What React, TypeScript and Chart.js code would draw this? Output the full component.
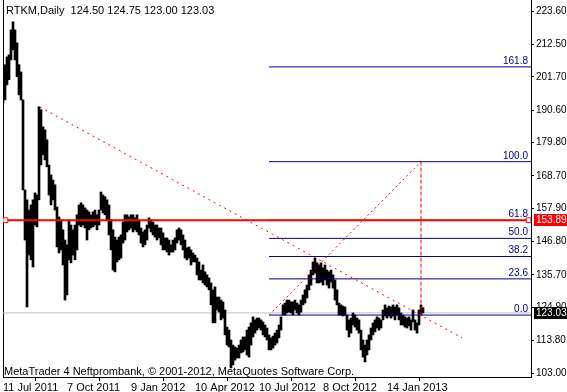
import React, { useEffect, useRef } from "react";
import { Chart, registerables } from "chart.js";

Chart.register(...registerables);

// ---------- data ----------
const symbolTitle = "RTKM,Daily  124.50 124.75 123.00 123.03";
const copyrightText = "MetaTrader 4 Neftprombank, © 2001-2012, MetaQuotes Software Corp.";

const dateLabels = ["11 Jul 2011", "7 Oct 2011", "9 Jan 2012", "10 Apr 2012", "10 Jul 2012", "8 Oct 2012", "14 Jan 2013"];
const dateTickBars = [0, 64, 128, 192, 256, 320, 384];
const priceTicks = [103.0, 113.8, 124.9, 135.7, 146.8, 157.9, 168.7, 179.8, 190.6, 201.7, 212.5, 223.6];

const barStep = 2; // each entry covers two daily bars
const totalBars = 528;
const priceMin = 101.67;
const priceMax = 227.27;

const highs = [
  204.0, 205.7, 208.3, 209.0, 217.3, 220.0, 217.3, 213.0, 205.7, 203.3,
  194.0, 164.0, 160.7, 157.3, 159.0, 160.7, 163.0, 162.3, 191.7, 190.7,
  185.0, 184.0, 180.7, 172.3, 169.0, 167.3, 165.7, 158.3, 155.0, 154.0,
  150.7, 147.3, 145.7, 154.0, 152.3, 150.7, 152.3, 155.7, 159.0, 159.7,
  159.0, 158.0, 157.3, 156.7, 155.7, 156.7, 157.3, 155.7, 157.3, 163.3,
  162.3, 161.7, 160.7, 159.0, 154.0, 150.7, 148.3, 147.3, 148.3, 149.0,
  153.3, 155.7, 155.7, 155.0, 155.7, 155.7, 154.7, 155.7, 154.0, 151.3,
  150.0, 150.7, 152.3, 154.7, 154.0, 153.3, 152.3, 152.3, 151.3, 151.3,
  149.7, 148.0, 148.0, 147.3, 145.7, 147.3, 148.0, 150.7, 151.3, 150.7,
  149.0, 147.3, 144.7, 145.0, 144.0, 143.0, 142.3, 141.3, 140.0, 137.3,
  139.0, 136.7, 135.7, 134.7, 133.0, 130.7, 131.7, 128.3, 128.3, 127.3,
  126.7, 124.0, 118.3, 117.3, 114.0, 112.3, 111.7, 111.3, 112.3, 114.0,
  115.0, 115.0, 117.3, 118.3, 119.7, 121.7, 120.7, 121.3, 121.3, 120.7,
  120.0, 119.0, 118.0, 115.7, 114.7, 115.3, 116.3, 117.3, 119.0, 121.7,
  125.7, 126.3, 127.3, 127.3, 126.7, 126.7, 127.3, 126.3, 125.7, 127.3,
  129.0, 130.7, 132.3, 135.7, 137.3, 140.0, 141.3, 139.7, 139.0, 139.7,
  138.0, 139.0, 137.3, 136.7, 137.3, 135.7, 134.0, 130.7, 126.3, 125.7,
  125.3, 125.0, 122.3, 120.7, 121.3, 123.0, 122.3, 121.3, 120.7, 117.3,
  114.0, 112.3, 114.0, 115.7, 118.0, 119.7, 120.7, 121.7, 121.3, 120.7,
  124.0, 125.7, 124.7, 125.3, 125.0, 125.7, 125.0, 125.7, 124.7, 123.0,
  122.3, 121.7, 121.3, 121.7, 120.7, 124.0, 120.7, 119.7, 124.0, 125.7,
  124.75,
];

const lows = [
  193.0, 194.0, 199.0, 200.7, 207.3, 210.7, 207.3, 201.7, 195.7, 194.0,
  164.0, 147.3, 125.0, 142.3, 140.7, 138.3, 152.3, 151.7, 160.7, 172.3,
  175.7, 174.0, 171.7, 162.3, 159.0, 160.7, 157.3, 145.0, 143.0, 144.0,
  139.0, 127.3, 129.0, 140.7, 139.7, 142.3, 140.7, 144.0, 152.3, 151.7,
  152.3, 151.3, 147.3, 150.7, 151.3, 151.7, 152.3, 150.7, 152.3, 157.3,
  156.3, 155.7, 154.0, 149.0, 144.0, 137.3, 136.7, 140.0, 140.7, 141.3,
  146.3, 147.3, 150.0, 150.7, 151.3, 150.0, 150.7, 150.0, 149.0, 146.3,
  145.0, 145.7, 147.3, 151.3, 150.0, 149.0, 148.3, 147.3, 148.0, 145.7,
  144.0, 144.0, 143.3, 142.3, 143.3, 143.3, 144.0, 146.3, 147.3, 145.7,
  144.0, 141.3, 140.7, 141.3, 139.0, 140.0, 140.0, 135.7, 134.0, 134.0,
  133.0, 132.3, 131.7, 130.7, 125.7, 119.7, 119.7, 124.0, 123.3, 120.7,
  121.3, 115.7, 112.3, 111.7, 104.7, 105.7, 107.3, 108.0, 108.0, 109.7,
  110.0, 110.7, 109.0, 108.3, 112.3, 115.0, 116.3, 117.3, 118.0, 117.3,
  115.7, 115.0, 114.0, 110.7, 110.7, 111.3, 112.3, 113.0, 114.7, 117.3,
  122.3, 122.3, 123.0, 123.3, 123.0, 122.3, 124.0, 123.0, 122.3, 123.3,
  125.7, 126.3, 128.0, 130.7, 132.3, 135.7, 136.3, 133.0, 133.0, 133.3,
  132.3, 134.0, 132.3, 131.3, 133.3, 131.3, 127.3, 125.7, 122.3, 122.3,
  122.0, 122.3, 117.3, 115.0, 116.3, 119.0, 118.3, 117.3, 116.3, 110.7,
  108.3, 106.7, 109.0, 110.7, 114.0, 115.7, 116.7, 118.0, 117.3, 118.0,
  120.7, 122.0, 121.3, 122.0, 121.3, 122.0, 120.7, 122.3, 120.7, 119.0,
  119.0, 118.3, 118.0, 118.7, 117.3, 120.0, 117.3, 116.3, 119.0, 122.3,
  123.0,
];

const bidPrice = 123.03;
const alertPrice = 153.89;
const fibLowPrice = 122.3;
const fibHighPrice = 173.4;
const fibRatios = [0, 23.6, 38.2, 50, 61.8, 100, 161.8];
const fibStartBar = 266;
const fibEndBar = 418;
const trendStartBar = 37;
const trendStartPrice = 191.6;
const trendEndBar = 459;
const trendEndPrice = 114.7;

// ---------- styling ----------
const FONT = '"Liberation Sans", Arial, sans-serif';
const NAVY = "#000080";
const RED = "#ff0000";

const fibPrice = (r: number) => fibLowPrice + (r / 100) * (fibHighPrice - fibLowPrice);

const textPlugin = {
  id: "mtText",
  afterDraw(chart: any) {
    const { ctx, chartArea, scales } = chart;
    const y = scales.y;
    ctx.save();
    ctx.font = `10px ${FONT}`;
    // fib level labels
    ctx.fillStyle = NAVY;
    ctx.textAlign = "right";
    ctx.textBaseline = "alphabetic";
    fibRatios.forEach((r) => {
      const py = y.getPixelForValue(fibPrice(r));
      ctx.fillText(r.toFixed(1), chartArea.right - 3, py - 3);
    });
    // title
    ctx.fillStyle = "#000";
    ctx.textAlign = "left";
    ctx.textBaseline = "middle";
    ctx.font = `11px ${FONT}`;
    ctx.fillText(symbolTitle, 6, 11);
    // watermark
    ctx.textBaseline = "alphabetic";
    ctx.fillText(copyrightText, 4, 375);
    // price boxes
    ctx.font = `10px ${FONT}`;
    const boxes = [
      { price: alertPrice, bg: RED },
      { price: bidPrice, bg: "#000" },
    ];
    boxes.forEach((b) => {
      const py = y.getPixelForValue(b.price);
      ctx.fillStyle = b.bg;
      ctx.fillRect(chartArea.right + 3, Math.round(py) - 6, 33, 12);
      ctx.fillStyle = "#fff";
      ctx.textBaseline = "middle";
      ctx.fillText(b.price.toFixed(2), chartArea.right + 5, Math.round(py) + 0.5);
    });
    ctx.restore();
  },
};

export default function App() {
  const ref = useRef<HTMLCanvasElement | null>(null);

  useEffect(() => {
    const canvas = ref.current;
    if (!canvas) return;

    const barData = highs.map((h, i) => ({ x: i * barStep, y: [lows[i], h] }));

    const lineBase = {
      type: "line" as const,
      pointRadius: 0,
      fill: false,
      tension: 0,
      borderWidth: 1,
      yAxisID: "y",
      xAxisID: "x",
    };

    const fibDatasets = fibRatios.map((r) => ({
      ...lineBase,
      data: [
        { x: fibStartBar, y: fibPrice(r) },
        { x: totalBars, y: fibPrice(r) },
      ],
      borderColor: NAVY,
      order: 3,
    }));

    const chart = new Chart(canvas, {
      type: "bar",
      data: {
        datasets: [
          {
            ...lineBase,
            data: [
              { x: 0, y: bidPrice },
              { x: totalBars, y: bidPrice },
            ],
            borderColor: "#c0c0c0",
            order: 10,
          },
          {
            type: "bar",
            data: barData as any,
            backgroundColor: "#000",
            borderWidth: 0,
            barThickness: 2,
            grouped: false,
            yAxisID: "y",
            xAxisID: "x",
            order: 5,
          } as any,
          ...fibDatasets,
          {
            ...lineBase,
            data: [
              { x: 0, y: alertPrice },
              { x: 2.4, y: alertPrice },
              { x: totalBars - 2.4, y: alertPrice },
              { x: totalBars, y: alertPrice },
            ],
            borderColor: RED,
            borderWidth: 2,
            pointRadius: [0, 3.4, 3.4, 0],
            pointStyle: "rect",
            pointBackgroundColor: "#fff",
            pointBorderColor: RED,
            pointBorderWidth: 1,
            order: 2,
          },
          {
            ...lineBase,
            data: [
              { x: trendStartBar, y: trendStartPrice },
              { x: trendEndBar, y: trendEndPrice },
            ],
            borderColor: RED,
            borderDash: [2, 4],
            order: 1,
          },
          {
            ...lineBase,
            data: [
              { x: fibStartBar, y: fibLowPrice },
              { x: fibEndBar, y: fibHighPrice },
            ],
            borderColor: RED,
            borderDash: [2, 3],
            order: 1,
          },
          {
            ...lineBase,
            data: [
              { x: fibEndBar, y: fibHighPrice },
              { x: fibEndBar, y: fibLowPrice },
            ],
            borderColor: RED,
            borderDash: [4, 2],
            order: 1,
          },
        ] as any,
      },
      options: {
        animation: false,
        responsive: false,
        maintainAspectRatio: false,
        layout: { padding: { left: 3, top: 0, right: 0, bottom: 0 } },
        plugins: { legend: { display: false }, tooltip: { enabled: false }, title: { display: false } },
        scales: {
          x: {
            type: "linear",
            position: "bottom",
            min: 0,
            max: totalBars,
            offset: false,
            grid: { drawOnChartArea: false, color: "#000", tickLength: 4 },
            border: { display: true, color: "#000" },
            ticks: {
              color: "#000",
              font: { family: FONT, size: 11 },
              align: "start",
              maxRotation: 0,
              autoSkip: false,
              padding: 0,
              callback: (_v: any, i: number) => dateLabels[i],
            },
            afterBuildTicks: (s: any) => {
              s.ticks = dateTickBars.map((v) => ({ value: v }));
            },
            afterFit: (s: any) => {
              s.height = 15;
              s.paddingLeft = 0;
              s.paddingRight = 0;
            },
          },
          y: {
            type: "linear",
            position: "right",
            min: priceMin,
            max: priceMax,
            beginAtZero: false,
            grid: { drawOnChartArea: false, color: "#000", tickLength: 3 },
            border: { display: true, color: "#000" },
            ticks: {
              color: "#000",
              font: { family: FONT, size: 10 },
              padding: 2,
              callback: (v: any) => Number(v).toFixed(2),
            },
            afterBuildTicks: (s: any) => {
              s.ticks = priceTicks.map((v) => ({ value: v }));
            },
            afterFit: (s: any) => {
              s.width = 36;
              s.paddingTop = 0;
              s.paddingBottom = 0;
            },
          },
          yl: {
            type: "linear",
            position: "left",
            display: true,
            grid: { drawOnChartArea: false, drawTicks: false },
            border: { display: true, color: "#000" },
            ticks: { display: false },
            afterFit: (s: any) => {
              s.width = 0;
              s.paddingTop = 0;
              s.paddingBottom = 0;
            },
          },
        },
      } as any,
      plugins: [textPlugin],
    });

    return () => chart.destroy();
  }, []);

  return (
    <div style={{ position: "fixed", left: 0, top: 0, width: 567, height: 392, background: "#fff" }}>
      <canvas ref={ref} width={567} height={392} style={{ display: "block" }} />
    </div>
  );
}
